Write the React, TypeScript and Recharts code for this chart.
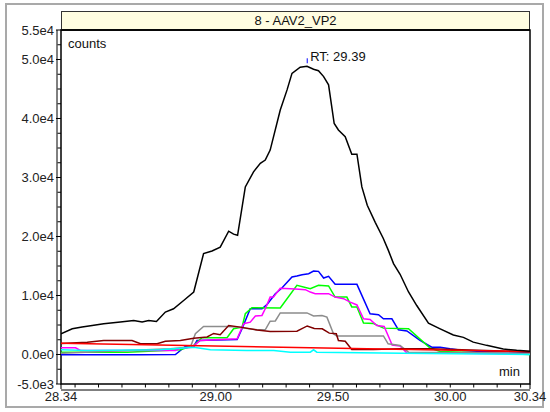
import { LineChart, Line, XAxis, YAxis, ReferenceArea, ReferenceDot } from "recharts";

// retention time axis (min)
const xTicks = [
  28.34, 28.4, 28.5, 28.6, 28.7, 28.8, 28.9, 29.0, 29.1, 29.2, 29.3, 29.4, 29.5,
  29.6, 29.7, 29.8, 29.9, 30.0, 30.1, 30.2, 30.3, 30.34,
];
const xLabels = [28.34, 29.0, 29.5, 30.0, 30.34];

// counts axis
const yTicks = [
  -5000, -2500, 0, 2500, 5000, 7500, 10000, 12500, 15000, 17500, 20000, 22500,
  25000, 27500, 30000, 32500, 35000, 37500, 40000, 42500, 45000, 47500, 50000,
  52500, 55000,
];
const yLabels = [-5000, 0, 10000, 20000, 30000, 40000, 50000, 55000];

// [time, counts]
const black = [
  [28.34, 3500], [28.388, 4350], [28.43, 4650], [28.473, 4900], [28.522, 5200],
  [28.593, 5500], [28.65, 5750], [28.686, 5500], [28.714, 5750], [28.747, 5600],
  [28.785, 7200], [28.82, 7750], [28.863, 9150], [28.906, 10600], [28.948, 17100],
  [28.984, 17550], [29.019, 18200], [29.055, 20900], [29.076, 20400], [29.093, 20200],
  [29.126, 28400], [29.161, 30950], [29.19, 32400], [29.211, 32950], [29.232, 34650],
  [29.275, 41450], [29.304, 44850], [29.325, 47650], [29.36, 48700], [29.389, 48850],
  [29.417, 48350], [29.438, 48100], [29.46, 47100], [29.481, 45700], [29.505, 39150],
  [29.523, 38050], [29.552, 36900], [29.58, 33950], [29.602, 33950], [29.623, 28400],
  [29.646, 25300], [29.68, 22400], [29.714, 19700], [29.736, 17650], [29.758, 15400],
  [29.786, 13600], [29.822, 10600], [29.857, 8300], [29.907, 5300], [29.957, 4350],
  [30.013, 3300], [30.056, 2900], [30.098, 2100], [30.155, 1550], [30.226, 950],
  [30.283, 700], [30.34, 550],
];

const blue = [
  [28.34, -50], [28.679, -50], [28.828, 0], [28.87, 1360], [28.906, 1360],
  [28.92, 2380], [29.091, 2550], [29.112, 4360], [29.147, 7760], [29.197, 7760],
  [29.218, 8440], [29.254, 10310], [29.282, 11260], [29.325, 13130], [29.346, 13300],
  [29.368, 13530], [29.396, 13700], [29.417, 14140], [29.438, 14090], [29.46, 12960],
  [29.481, 13240], [29.509, 11890], [29.602, 11890], [29.658, 6910], [29.694, 6740],
  [29.715, 6060], [29.751, 6060], [29.779, 4190], [29.815, 3990], [29.871, 2380],
  [29.921, 1240], [29.957, 1240], [29.999, 970], [30.056, 680], [30.113, 560],
  [30.34, 390],
];

const green = [
  [28.34, 390], [28.622, 390], [28.849, 800], [28.906, 1530], [28.941, 2840],
  [29.048, 2840], [29.076, 4360], [29.112, 4640], [29.126, 6910], [29.154, 7930],
  [29.275, 7900], [29.346, 11720], [29.403, 11160], [29.438, 11720], [29.481, 11630],
  [29.509, 9730], [29.559, 9730], [29.58, 8070], [29.602, 8070], [29.63, 5350],
  [29.673, 5260], [29.715, 4470], [29.822, 4360], [29.914, 1100], [29.957, 510],
  [30.34, 0],
];

const magenta = [
  [28.34, 1140], [28.402, 1140], [28.423, 680], [28.828, 680], [28.849, 1070],
  [28.899, 1240], [28.934, 2380], [29.091, 2670], [29.119, 5210], [29.147, 5480],
  [29.169, 6540], [29.197, 6620], [29.211, 7760], [29.232, 9730], [29.246, 9730],
  [29.275, 11210], [29.339, 11120], [29.382, 10990], [29.403, 10580], [29.424, 10310],
  [29.481, 10310], [29.509, 9730], [29.545, 9460], [29.573, 8880], [29.602, 8400],
  [29.63, 6060], [29.658, 5940], [29.687, 4920], [29.718, 4750], [29.744, 2380],
  [29.752, 1610], [29.786, 1440], [29.815, 250], [30.34, 170],
];

const gray = [
  [28.34, 220], [28.806, 970], [28.892, 1270], [28.913, 3510], [28.948, 4750],
  [29.048, 4750], [29.091, 4640], [29.176, 4190], [29.211, 4190], [29.232, 5650],
  [29.254, 5690], [29.275, 7050], [29.389, 7050], [29.417, 6540], [29.453, 6620],
  [29.474, 6330], [29.502, 3510], [29.516, 3140], [29.715, 3140], [29.735, 1820],
  [29.786, 1530], [29.822, 390], [30.34, 220],
];

const maroon = [
  [28.34, 1870], [28.452, 2090], [28.522, 2380], [28.643, 2380], [28.679, 1820],
  [28.75, 1820], [28.785, 2260], [28.849, 2380], [28.906, 2770], [28.963, 2970],
  [28.991, 3570], [29.019, 3350], [29.055, 4920], [29.105, 4640], [29.176, 4160],
  [29.232, 3910], [29.346, 3960], [29.39, 4840], [29.42, 4410], [29.454, 4360],
  [29.484, 3620], [29.514, 3520], [29.523, 2380], [29.552, 2260], [29.58, 850],
  [29.672, 850], [29.786, 970], [29.914, 970], [30.34, 420],
];

const cyan = [
  [28.34, 800], [28.452, 680], [28.764, 800], [28.906, 1240], [28.977, 800],
  [29.133, 680], [29.247, 680], [29.318, 390], [29.403, 390], [29.417, 800],
  [29.431, 390], [29.8, 220], [30.34, 0],
];

const red = [[28.34, 1920], [29.403, 1140], [30.34, 510]];

const apex = { t: 29.39, v: 48850, label: "RT: 29.39" };

const toRows = (pts: number[][]) => pts.map(([t, v]) => ({ t, v }));

const series = [
  { name: "blue", color: "#0000ff", pts: blue },
  { name: "green", color: "#00ff00", pts: green },
  { name: "magenta", color: "#ff00ff", pts: magenta },
  { name: "gray", color: "#8c8c8c", pts: gray },
  { name: "maroon", color: "#800000", pts: maroon },
  { name: "cyan", color: "#00ffff", pts: cyan },
  { name: "red", color: "#ff0000", pts: red },
  { name: "black", color: "#000000", pts: black },
];

const FONT = "'Liberation Sans', Arial, sans-serif";

function sci(v: number) {
  if (v === 0) return "0.0e0";
  const e = Math.floor(Math.log10(Math.abs(v)));
  return (v / Math.pow(10, e)).toFixed(1) + "e" + e;
}

const isIn = (list: number[], v: number) => list.some((l) => Math.abs(l - v) < 1e-6);

function YTick(props: any) {
  const { x, y, payload } = props;
  const major = isIn(yLabels, payload.value);
  return (
    <g>
      <line x1={x - (major ? 5 : 3.5)} x2={x} y1={y} y2={y} stroke="#000" />
      {major && (
        <text x={x - 7} y={y} dy={4.5} textAnchor="end" fontSize={13} fill="#222" fontFamily={FONT}>
          {sci(payload.value)}
        </text>
      )}
    </g>
  );
}

function XTick(props: any) {
  const { x, y, payload } = props;
  const major = isIn(xLabels, payload.value);
  const end = payload.value === xTicks[0] || payload.value === xTicks[xTicks.length - 1];
  return (
    <g>
      <line x1={x} x2={x} y1={y} y2={y + (end ? 5 : 3.5)} stroke="#000" />
      {major && (
        <text x={x} y={y} dy={17} textAnchor="middle" fontSize={13} fill="#222" fontFamily={FONT}>
          {payload.value.toFixed(2)}
        </text>
      )}
    </g>
  );
}

function ApexMark(props: any) {
  const { cx, cy } = props;
  return (
    <g>
      <line x1={cx} x2={cx} y1={cy - 8} y2={cy - 3} stroke="#0000ff" />
      <text x={cx + 3} y={cy - 5} fontSize={13} fill="#111" fontFamily={FONT}>
        {apex.label}
      </text>
    </g>
  );
}

export default function App() {
  return (
    <div style={{ position: "relative", width: 550, height: 412, background: "#fff", fontFamily: FONT }}>
      <style>{`body{margin:0} .recharts-yAxis{transform:translateX(-4px)} .recharts-xAxis{transform:translateY(6px)}`}</style>
      <div
        style={{
          position: "absolute", left: 5, top: 3, width: 535, height: 401,
          border: "2px solid #a9a9a9",
        }}
      />
      <div
        style={{
          position: "absolute", left: 61, top: 11, width: 467, height: 17,
          background: "#fffde1", border: "1px solid #333", borderBottom: "2px solid #222",
          textAlign: "center", fontSize: 13, lineHeight: "17px", color: "#111",
        }}
      >
        8 - AAV2_VP2
      </div>
      <LineChart width={550} height={412} margin={{ top: 30, right: 20, bottom: 0, left: 0 }}>
        <XAxis
          type="number"
          dataKey="t"
          domain={[28.34, 30.34]}
          ticks={xTicks}
          interval={0}
          allowDataOverflow
          height={28}
          tickSize={0}
          tickMargin={0}
          tickLine={false}
          tick={<XTick />}
          axisLine={{ stroke: "#000" }}
        />
        <YAxis
          type="number"
          dataKey="v"
          domain={[-5000, 55000]}
          ticks={yTicks}
          interval={0}
          allowDataOverflow
          width={61}
          tickSize={0}
          tickMargin={0}
          tickLine={false}
          tick={<YTick />}
          axisLine={{ stroke: "#000" }}
        />
        <ReferenceArea x1={28.34} x2={30.34} y1={-5000} y2={55000} fill="none" stroke="#000" strokeWidth={1.5} />
        {series.map((s) => (
          <Line
            key={s.name}
            data={toRows(s.pts)}
            dataKey="v"
            type="linear"
            stroke={s.color}
            strokeWidth={1.5}
            dot={false}
            activeDot={false}
            isAnimationActive={false}
          />
        ))}
        <ReferenceDot x={apex.t} y={apex.v} r={0} shape={<ApexMark />} />
      </LineChart>
      <div style={{ position: "absolute", left: 68, top: 36, fontSize: 13, color: "#111" }}>counts</div>
      <div style={{ position: "absolute", left: 499, top: 364, fontSize: 13, color: "#111" }}>min</div>
    </div>
  );
}
